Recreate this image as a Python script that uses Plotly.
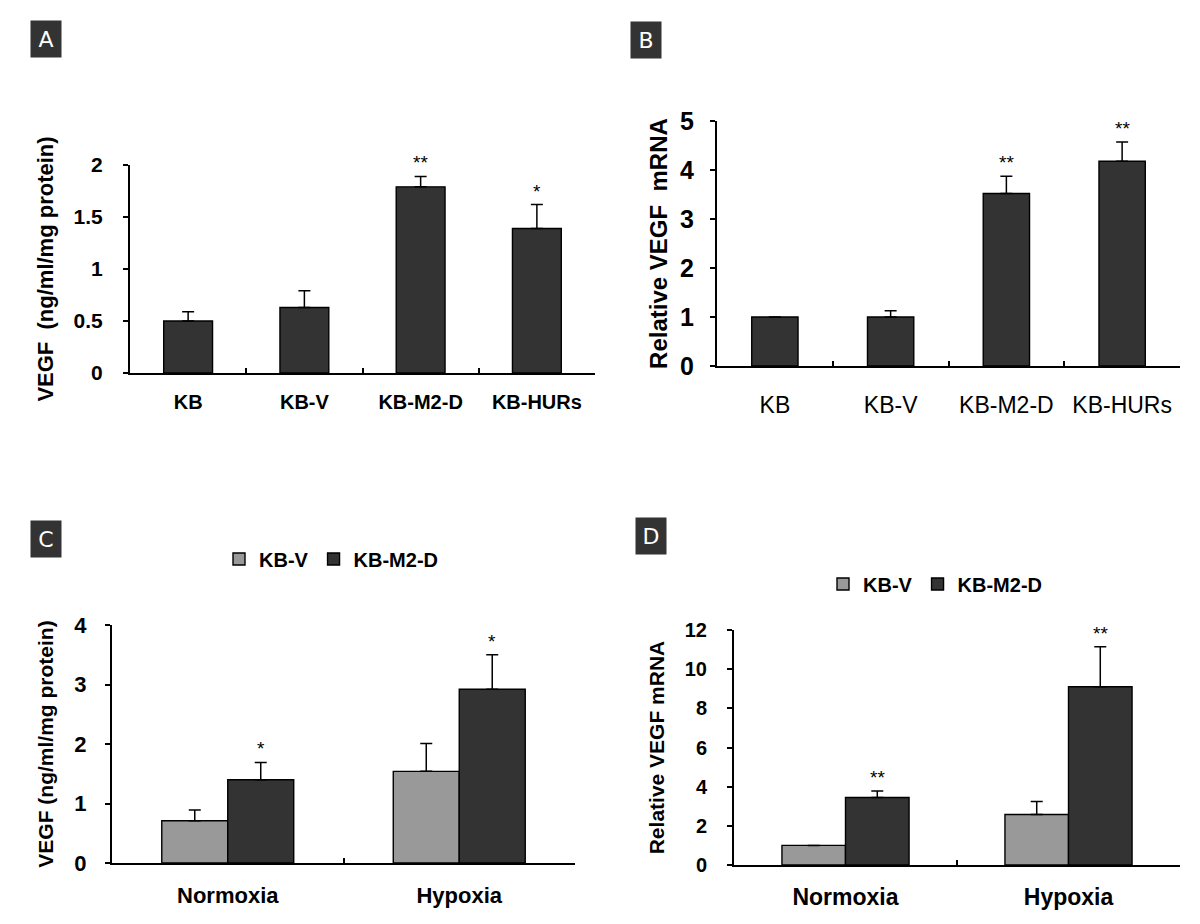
import plotly.graph_objects as go

W, H = 1200, 924

# ---------------- data ----------------
cats_ab = ["KB", "KB-V", "KB-M2-D", "KB-HURs"]
a_vals = [0.50, 0.63, 1.79, 1.39]
a_err = [0.09, 0.16, 0.10, 0.23]
a_sig = ["", "", "**", "*"]

b_vals = [1.0, 1.0, 3.52, 4.18]
b_err = [None, 0.13, 0.35, 0.39]
b_sig = ["", "", "**", "**"]

cats_cd = ["Normoxia", "Hypoxia"]
series_names = ["KB-V", "KB-M2-D"]
c_kbv = [0.71, 1.54]
c_kbv_err = [0.18, 0.47]
c_m2d = [1.40, 2.92]
c_m2d_err = [0.29, 0.58]
c_sig = ["*", "*"]

d_kbv = [1.0, 2.58]
d_kbv_err = [None, 0.66]
d_m2d = [3.45, 9.10]
d_m2d_err = [0.33, 2.04]
d_sig = ["**", "**"]

y_ticks_a = [0, 0.5, 1, 1.5, 2]
y_ticks_b = [0, 1, 2, 3, 4, 5]
y_ticks_c = [0, 1, 2, 3, 4]
y_ticks_d = [0, 2, 4, 6, 8, 10, 12]

DARK = "#333333"
GRAY = "#999999"
FONT = "Liberation Sans"

# ---------------- layout geometry (pixels) ----------------
def dom_x(x0, x1):
    return [x0 / W, x1 / W]

def dom_y(ytop, ybot):
    return [1 - ybot / H, 1 - ytop / H]

dA = (dom_x(122, 587), dom_y(157, 365))
dB = (dom_x(709, 1172), dom_y(113, 358))
dC = (dom_x(104, 567), dom_y(617, 855))
dD = (dom_x(726, 1172), dom_y(622, 857))

fig = go.Figure()

def err(arr):
    return dict(type="data", array=arr, arrayminus=[0] * len(arr), symmetric=False,
                color="black", thickness=1.5, width=6)

mk = lambda c: dict(color=c, line=dict(color="black", width=1.4))

fig.add_trace(go.Bar(x=cats_ab, y=a_vals, error_y=err(a_err), marker=mk(DARK), width=0.42,
                     xaxis="x", yaxis="y", showlegend=False))
fig.add_trace(go.Bar(x=cats_ab, y=b_vals, error_y=err(b_err), marker=mk(DARK), width=0.40,
                     xaxis="x2", yaxis="y2", showlegend=False))
fig.add_trace(go.Bar(x=cats_cd, y=c_kbv, error_y=err(c_kbv_err), marker=mk(GRAY), name=series_names[0],
                     xaxis="x3", yaxis="y3", legend="legend"))
fig.add_trace(go.Bar(x=cats_cd, y=c_m2d, error_y=err(c_m2d_err), marker=mk(DARK), name=series_names[1],
                     xaxis="x3", yaxis="y3", legend="legend"))
fig.add_trace(go.Bar(x=cats_cd, y=d_kbv, error_y=err(d_kbv_err), marker=mk(GRAY), name=series_names[0],
                     xaxis="x4", yaxis="y4", legend="legend2"))
fig.add_trace(go.Bar(x=cats_cd, y=d_m2d, error_y=err(d_m2d_err), marker=mk(DARK), name=series_names[1],
                     xaxis="x4", yaxis="y4", legend="legend2"))

def xax(domain, anchor, bold=True, size=20, standoff=10):
    return dict(domain=domain, anchor=anchor, showline=True, linecolor="black", linewidth=2,
                ticks="inside", ticklen=5, tickcolor="black", tickwidth=1.5, tickson="boundaries",
                showgrid=False, zeroline=False, fixedrange=True, automargin=False,
                ticklabelstandoff=standoff,
                tickfont=dict(family=FONT, size=size, color="black",
                              weight="bold" if bold else "normal"))

def yax(domain, anchor, rng, ticks, title, size=21, lstand=14, tsize=22, standoff=14):
    return dict(domain=domain, anchor=anchor, range=rng, tickvals=ticks,
                ticktext=[("%g" % t) for t in ticks],
                showline=True, linecolor="black", linewidth=2,
                ticks="outside", ticklen=5, tickcolor="black", tickwidth=1.5,
                showgrid=False, zeroline=False, fixedrange=True, automargin=False,
                ticklabelstandoff=lstand,
                tickfont=dict(family=FONT, size=size, color="black", weight="bold"),
                title=dict(text=title, standoff=standoff,
                           font=dict(family=FONT, size=tsize, color="black", weight="bold")))

legfont = dict(family=FONT, size=20, color="black", weight="bold")

fig.update_layout(
    width=W, height=H, autosize=False,
    margin=dict(l=0, r=0, t=0, b=0),
    paper_bgcolor="white", plot_bgcolor="white",
    barmode="group", bargap=0.43, bargroupgap=0,
    xaxis=xax(dA[0], "y", size=20, standoff=10),
    yaxis=yax(dA[1], "x", [0, 2], y_ticks_a, "VEGF  (ng/ml/mg protein)",
              size=21, lstand=16, tsize=22, standoff=14),
    xaxis2=xax(dB[0], "y2", bold=False, size=23, standoff=17),
    yaxis2=yax(dB[1], "x2", [0, 5], y_ticks_b, "Relative VEGF  mRNA",
               size=25, lstand=11, tsize=24, standoff=6),
    xaxis3=xax(dC[0], "y3", size=22, standoff=12),
    yaxis3=yax(dC[1], "x3", [0, 4], y_ticks_c, "VEGF (ng/ml/mg protein)",
               size=22, lstand=14, tsize=21, standoff=15),
    xaxis4=xax(dD[0], "y4", size=23, standoff=10),
    yaxis4=yax(dD[1], "x4", [0, 12], y_ticks_d, "Relative VEGF mRNA",
               size=20, lstand=16, tsize=21, standoff=14),
    legend=dict(orientation="h", x=323 / W, y=1 - 551 / H, xanchor="center", yanchor="middle",
                font=legfont, itemwidth=30, bgcolor="rgba(0,0,0,0)", itemclick=False,
                tracegroupgap=0),
    legend2=dict(orientation="h", x=927 / W, y=1 - 576 / H, xanchor="center", yanchor="middle",
                 font=legfont, itemwidth=30, bgcolor="rgba(0,0,0,0)", itemclick=False,
                 tracegroupgap=0),
    showlegend=True,
)

ann = []
# panel letters
for letter, px, py in [("A", 38, 31), ("B", 638, 32), ("C", 38, 531), ("D", 643, 528)]:
    ann.append(dict(text=letter, x=px / W, y=1 - py / H, xref="paper", yref="paper",
                    xanchor="center", yanchor="middle", showarrow=False,
                    font=dict(family="DejaVu Sans", size=22, color="white"),
                    bgcolor=DARK, borderpad=4, width=22, height=28))

# significance marks
def sig_marks(xref, yref, cats, vals, errs, sigs, xshift=0):
    for c, v, e, s in zip(cats, vals, errs, sigs):
        if s:
            ann.append(dict(text=s, x=c, y=v + (e or 0), xref=xref, yref=yref, xshift=xshift,
                            yshift=1, xanchor="center", yanchor="bottom", showarrow=False,
                            font=dict(family=FONT, size=19, color="black")))

sig_marks("x", "y", cats_ab, a_vals, a_err, a_sig)
sig_marks("x2", "y2", cats_ab, b_vals, b_err, b_sig)
c_cat_px = (dC[0][1] - dC[0][0]) * W / len(cats_cd)
d_cat_px = (dD[0][1] - dD[0][0]) * W / len(cats_cd)
sig_marks("x3", "y3", cats_cd, c_m2d, c_m2d_err, c_sig, xshift=c_cat_px * (1 - 0.43) / 4)
sig_marks("x4", "y4", cats_cd, d_m2d, d_m2d_err, d_sig, xshift=d_cat_px * (1 - 0.43) / 4)

fig.update_layout(annotations=ann)
fig.write_html("out.html")
